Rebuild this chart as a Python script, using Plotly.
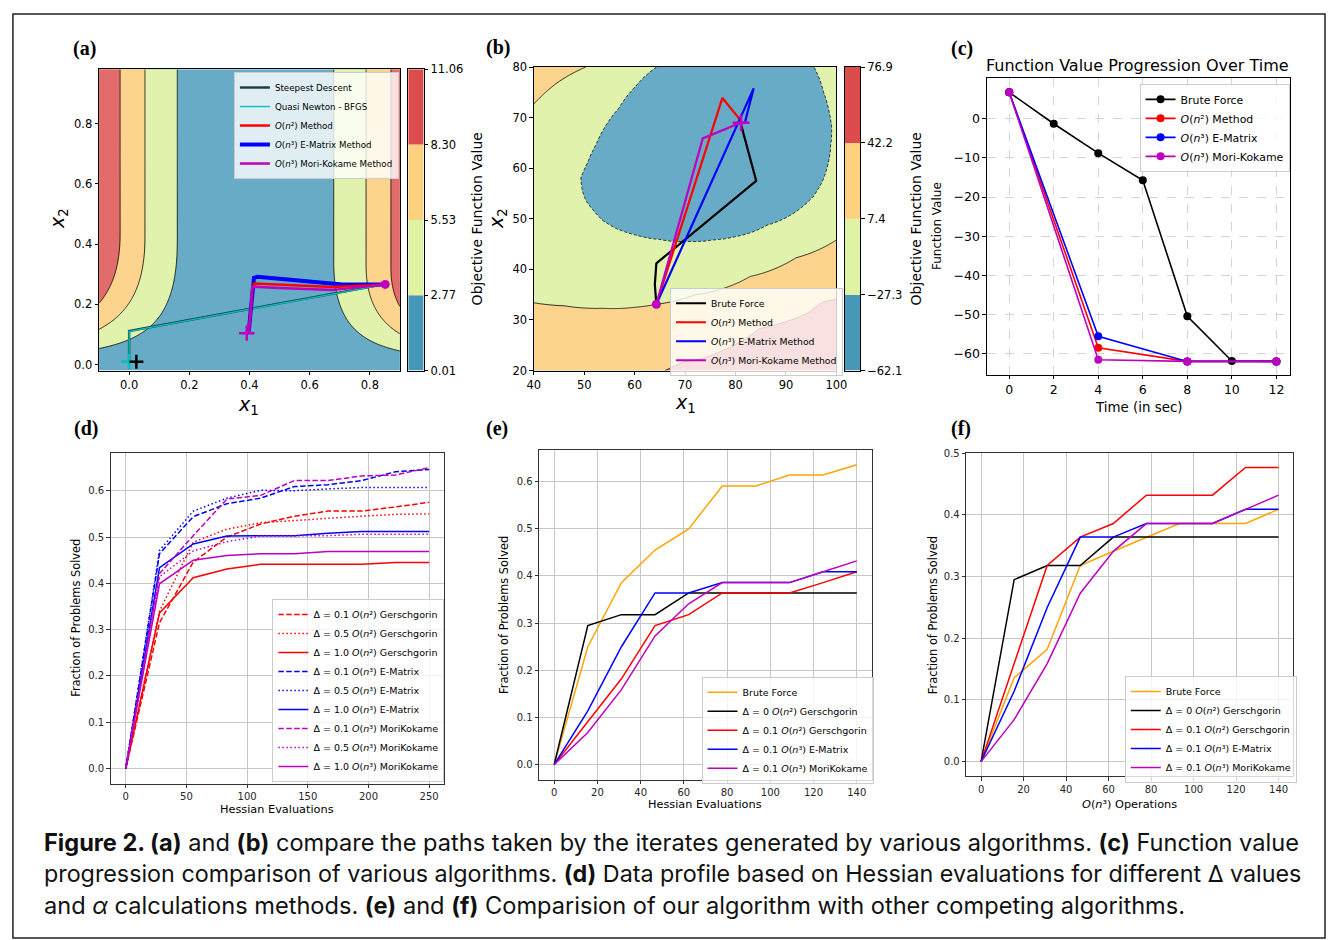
import numpy as np
import plotly.graph_objects as go

W, H = 1338, 940
FONT = "DejaVu Sans"
RED, BLUE, MAG, CYAN, ORANGE = "#ff0000", "#0000ff", "#bf00bf", "#00bfbf", "#ffa500"

PLOT_COLORS = ["#67abc6", "#e0f2ab", "#fdd48e", "#e26b6b"]
CBAR_COLORS = ["#4797b8", "#e0f3a3", "#fed17e", "#dc4c4c"]

# ---------------- (a) contour levels & paths ----------------
A_LEVELS = [0.01, 2.77, 5.53, 8.30, 11.06]
A_LEVEL_TEXT = ["0.01", "2.77", "5.53", "8.30", "11.06"]
A_CURV, A_CENTER = 41.0, 0.42
A_CAP_LEFT, A_CAP_RIGHT, A_POW = 0.45, 0.32, 2.3

sd_x = [0.0, 0.0, 0.851]
sd_y = [0.008, 0.111, 0.267]
bfgs_x = [0.0, 0.0, 0.851]
bfgs_y = [0.010, 0.110, 0.266]
a_n2_x = [0.391, 0.398, 0.404, 0.410, 0.415, 0.550, 0.677, 0.851]
a_n2_y = [0.104, 0.113, 0.178, 0.255, 0.269, 0.262, 0.257, 0.266]
a_em_x = [0.391, 0.398, 0.404, 0.410, 0.415, 0.426, 0.568, 0.709, 0.851]
a_em_y = [0.104, 0.113, 0.178, 0.255, 0.288, 0.291, 0.277, 0.266, 0.266]
a_mk_x = [0.391, 0.398, 0.404, 0.409, 0.500, 0.677, 0.851]
a_mk_y = [0.104, 0.113, 0.178, 0.258, 0.254, 0.2475, 0.266]

# ---------------- (b) contour anchors & paths ----------------
B_LEVELS = [-62.1, -27.35, 7.40, 42.15, 76.9]
B_LEVEL_TEXT = ["\u221262.1", "\u221227.3", "7.4", "42.2", "76.9"]
B_CX, B_CY = 78.0, 66.0
blue_edge_x = [64.3, 60.0, 56.8, 54.0, 52.3, 50.6, 49.3, 49.6, 50.3, 53.6, 56.5, 60.1, 65.0, 70.9, 75.5,
               79.7, 86.2, 92.7, 95.5, 97.3, 98.9, 99.1, 98.6, 97.5, 95.6, 90.0, 82.0, 72.0]
blue_edge_y = [80.0, 76.0, 71.8, 68.0, 64.6, 61.0, 58.1, 55.5, 53.6, 49.7, 48.0, 46.8, 45.9, 45.5, 45.8,
               46.4, 48.7, 51.9, 54.5, 57.5, 64.6, 68.0, 71.1, 75.0, 80.0, 87.0, 89.0, 86.0]
green_edge_x = [50.3, 44.5, 40.0, 35.0, 34.0, 35.0, 37.0, 40.0, 46.0, 53.6, 60.0, 64.3, 72.0, 82.9, 92.0,
                100.0, 105.0, 107.0, 106.0, 101.0, 90.0, 76.0, 62.0]
green_edge_y = [80.0, 76.8, 72.7, 64.0, 55.0, 46.0, 38.5, 33.4, 32.8, 32.3, 32.5, 33.1, 35.0, 38.6, 42.3,
                45.8, 54.0, 64.0, 75.0, 86.0, 95.0, 96.0, 90.0]

b_bf_x = [81.0, 84.1, 64.3, 64.0, 64.3]
b_bf_y = [69.0, 57.5, 41.2, 37.0, 33.1]
b_n2_x = [80.9, 77.4, 64.3]
b_n2_y = [69.6, 73.9, 33.1]
b_em_x = [81.8, 83.6, 64.3]
b_em_y = [68.8, 75.8, 33.1]
b_mk_x = [82.4, 81.0, 73.5, 64.3]
b_mk_y = [69.1, 69.0, 65.9, 33.1]

# ---------------- (c) ----------------
c_bf_t = [0, 2, 4, 6, 8, 10, 12]
c_bf_v = [6.7, -1.3, -8.8, -15.7, -50.4, -61.8, -61.9]
c_t = [0, 4, 8, 12]
c_n2_v = [6.7, -58.4, -61.9, -61.9]
c_em_v = [6.7, -55.5, -61.9, -61.9]
c_mk_v = [6.7, -61.5, -61.9, -61.9]

# ---------------- (d) ----------------
d_x = [0, 27.8, 55.6, 83.3, 111.1, 138.9, 166.7, 194.4, 222.2, 250]
d_g01 = [0, 0.315, 0.446, 0.500, 0.528, 0.545, 0.556, 0.556, 0.565, 0.575]
d_g05 = [0, 0.340, 0.489, 0.517, 0.531, 0.536, 0.540, 0.545, 0.549, 0.550]
d_g10 = [0, 0.336, 0.412, 0.431, 0.441, 0.441, 0.441, 0.441, 0.445, 0.445]
d_e01 = [0, 0.464, 0.544, 0.572, 0.584, 0.609, 0.613, 0.622, 0.641, 0.646]
d_e05 = [0, 0.471, 0.556, 0.584, 0.601, 0.600, 0.604, 0.607, 0.607, 0.607]
d_e10 = [0, 0.434, 0.485, 0.502, 0.503, 0.503, 0.508, 0.512, 0.512, 0.512]
d_m01 = [0, 0.421, 0.503, 0.582, 0.590, 0.622, 0.622, 0.632, 0.634, 0.650]
d_m05 = [0, 0.414, 0.470, 0.490, 0.502, 0.502, 0.503, 0.506, 0.506, 0.506]
d_m10 = [0, 0.399, 0.450, 0.460, 0.464, 0.464, 0.469, 0.469, 0.469, 0.469]

# ---------------- (e) & (f) ----------------
ef_x = [0, 15.56, 31.11, 46.67, 62.22, 77.78, 93.33, 108.89, 124.44, 140]
e_bf = [0, 0.250, 0.386, 0.455, 0.500, 0.591, 0.591, 0.614, 0.614, 0.636]
e_g0 = [0, 0.295, 0.318, 0.318, 0.364, 0.364, 0.364, 0.364, 0.364, 0.364]
e_g01 = [0, 0.091, 0.182, 0.295, 0.318, 0.364, 0.364, 0.364, 0.386, 0.409]
e_em = [0, 0.114, 0.250, 0.364, 0.364, 0.386, 0.386, 0.386, 0.409, 0.409]
e_mk = [0, 0.068, 0.159, 0.273, 0.341, 0.386, 0.386, 0.386, 0.409, 0.432]
f_bf = [0, 0.136, 0.182, 0.318, 0.341, 0.364, 0.386, 0.386, 0.386, 0.409]
f_g0 = [0, 0.295, 0.318, 0.318, 0.364, 0.364, 0.364, 0.364, 0.364, 0.364]
f_g01 = [0, 0.159, 0.318, 0.364, 0.386, 0.432, 0.432, 0.432, 0.477, 0.477]
f_em = [0, 0.114, 0.250, 0.364, 0.364, 0.386, 0.386, 0.386, 0.409, 0.409]
f_mk = [0, 0.068, 0.159, 0.273, 0.341, 0.386, 0.386, 0.386, 0.409, 0.432]


def fx(X):
    return X / W


def fy(Y):
    return 1 - Y / H


def px_x(a, b):
    return [fx(a), fx(b)]


def px_y(top, bottom):
    return [fy(bottom), fy(top)]


def step_scale(cols):
    return [[0, cols[0]], [1 / 6, cols[0]], [1 / 6, cols[1]], [0.5, cols[1]],
            [0.5, cols[2]], [5 / 6, cols[2]], [5 / 6, cols[3]], [1, cols[3]]]


def radial_profile(px, py, cx, cy):
    px, py = np.asarray(px, float), np.asarray(py, float)
    th = np.arctan2(py - cy, px - cx)
    r = np.hypot(px - cx, py - cy)
    order = np.argsort(th)
    th, r = th[order], r[order]

    def f(theta):
        return np.interp(theta, th, r, period=2 * np.pi)
    return f


fig = go.Figure()

# ---------- (a) contour ----------
ax_g = np.linspace(-0.1, 0.9, 301)
ay_g = np.linspace(-0.02, 0.98, 301)
AX, AY = np.meshgrid(ax_g, ay_g)
cap = A_CAP_LEFT + (A_CAP_RIGHT - A_CAP_LEFT) * (AX + 0.1)
hy = 1 - np.clip(1 - AY / cap, 0, 1) ** A_POW
Za = A_CURV * (AX - A_CENTER) ** 2 * hy
fig.add_trace(go.Contour(
    x=ax_g, y=ay_g, z=Za, xaxis="x", yaxis="y", zmin=A_LEVELS[0], zmax=A_LEVELS[-1],
    contours=dict(start=A_LEVELS[1], end=A_LEVELS[3], size=(A_LEVELS[3] - A_LEVELS[1]) / 2,
                  coloring="fill", showlines=True),
    line=dict(color="black", width=0.8), colorscale=step_scale(PLOT_COLORS),
    showscale=False, hoverinfo="skip", showlegend=False))
fig.add_trace(go.Bar(x=[0, 0, 0, 0], y=list(np.diff(A_LEVELS)), base=A_LEVELS[:-1], width=1,
                     marker=dict(color=CBAR_COLORS, line_width=0), xaxis="x2", yaxis="y2",
                     showlegend=False, hoverinfo="skip"))

LA = "legend"
fig.add_trace(go.Scatter(x=sd_x, y=sd_y, mode="lines", line=dict(color="#1a3a3a", width=2.4),
                         name="Steepest Descent", legend=LA, legendrank=1, xaxis="x", yaxis="y"))
fig.add_trace(go.Scatter(x=bfgs_x, y=bfgs_y, mode="lines", line=dict(color=CYAN, width=1.4),
                         name="Quasi Newton - BFGS", legend=LA, legendrank=2, xaxis="x", yaxis="y"))
fig.add_trace(go.Scatter(x=a_em_x, y=a_em_y, mode="lines", line=dict(color=BLUE, width=4),
                         name="<i>O</i>(<i>n</i>\u00b3) E-Matrix Method", legend=LA, legendrank=4,
                         xaxis="x", yaxis="y"))
fig.add_trace(go.Scatter(x=a_n2_x, y=a_n2_y, mode="lines", line=dict(color=RED, width=2.5),
                         name="<i>O</i>(<i>n</i>\u00b2) Method", legend=LA, legendrank=3,
                         xaxis="x", yaxis="y"))
fig.add_trace(go.Scatter(x=a_mk_x, y=a_mk_y, mode="lines", line=dict(color=MAG, width=2.5),
                         name="<i>O</i>(<i>n</i>\u00b3) Mori-Kokame Method", legend=LA, legendrank=5,
                         xaxis="x", yaxis="y"))
fig.add_trace(go.Scatter(x=[bfgs_x[0]], y=[bfgs_y[0]], mode="markers", showlegend=False,
                         marker=dict(symbol="cross-thin", size=11, line=dict(color=CYAN, width=2.5)),
                         xaxis="x", yaxis="y"))
fig.add_trace(go.Scatter(x=[0.024], y=[0.009], mode="markers", showlegend=False,
                         marker=dict(symbol="cross-thin", size=10, line=dict(color="black", width=2.5)),
                         xaxis="x", yaxis="y"))
fig.add_trace(go.Scatter(x=[a_mk_x[0]], y=[a_mk_y[0]], mode="markers", showlegend=False,
                         marker=dict(symbol="cross-thin", size=11, line=dict(color=MAG, width=2.5)),
                         xaxis="x", yaxis="y"))
fig.add_trace(go.Scatter(x=[a_mk_x[-1]], y=[a_mk_y[-1]], mode="markers", showlegend=False,
                         marker=dict(symbol="circle", size=9, color=MAG), xaxis="x", yaxis="y"))

# ---------- (b) contour ----------
prof1 = radial_profile(blue_edge_x, blue_edge_y, B_CX, B_CY)
prof2 = radial_profile(green_edge_x, green_edge_y, B_CX, B_CY)
bx_g = np.linspace(40, 100, 301)
by_g = np.linspace(20, 80, 301)
BX, BY = np.meshgrid(bx_g, by_g)
th = np.arctan2(BY - B_CY, BX - B_CX)
rr = np.hypot(BX - B_CX, BY - B_CY)
r1 = prof1(th)
r2 = prof2(th)
step_b = B_LEVELS[2] - B_LEVELS[1]
inner = B_LEVELS[0] + step_b * (rr / r1) ** 2
outer = B_LEVELS[1] + step_b * np.clip((rr - r1) / (r2 - r1), 0, None) ** 0.85
Zb = np.where(rr <= r1, inner, outer)
fig.add_trace(go.Contour(
    x=bx_g, y=by_g, z=Zb, xaxis="x3", yaxis="y3", zmin=B_LEVELS[0], zmax=B_LEVELS[-1],
    contours=dict(start=B_LEVELS[1], end=B_LEVELS[3], size=step_b, coloring="fill", showlines=False),
    line=dict(width=0), colorscale=step_scale(PLOT_COLORS), showscale=False,
    hoverinfo="skip", showlegend=False))
fig.add_trace(go.Contour(
    x=bx_g, y=by_g, z=Zb, xaxis="x3", yaxis="y3",
    contours=dict(start=B_LEVELS[1], end=B_LEVELS[1], size=step_b, coloring="none"),
    line=dict(color="black", width=0.8, dash="3px,2px"), showscale=False,
    hoverinfo="skip", showlegend=False))
fig.add_trace(go.Contour(
    x=bx_g, y=by_g, z=Zb, xaxis="x3", yaxis="y3",
    contours=dict(start=B_LEVELS[2], end=B_LEVELS[3], size=step_b, coloring="none"),
    line=dict(color="black", width=0.8), showscale=False,
    hoverinfo="skip", showlegend=False))
fig.add_trace(go.Bar(x=[0, 0, 0, 0], y=list(np.diff(B_LEVELS)), base=B_LEVELS[:-1], width=1,
                     marker=dict(color=CBAR_COLORS, line_width=0), xaxis="x4", yaxis="y4",
                     showlegend=False, hoverinfo="skip"))
LB = "legend2"
for xs, ys, col, nm in [(b_bf_x, b_bf_y, "black", "Brute Force"),
                        (b_n2_x, b_n2_y, RED, "<i>O</i>(<i>n</i>\u00b2) Method"),
                        (b_em_x, b_em_y, BLUE, "<i>O</i>(<i>n</i>\u00b3) E-Matrix Method"),
                        (b_mk_x, b_mk_y, MAG, "<i>O</i>(<i>n</i>\u00b3) Mori-Kokame Method")]:
    fig.add_trace(go.Scatter(x=xs, y=ys, mode="lines", line=dict(color=col, width=2.2), name=nm,
                             legend=LB, xaxis="x3", yaxis="y3"))
fig.add_trace(go.Scatter(x=[81.1], y=[69.0], mode="markers", showlegend=False,
                         marker=dict(symbol="cross-thin", size=12, line=dict(color=MAG, width=2.5)),
                         xaxis="x3", yaxis="y3"))
fig.add_trace(go.Scatter(x=[b_mk_x[-1]], y=[b_mk_y[-1]], mode="markers", showlegend=False,
                         marker=dict(symbol="circle", size=9, color=MAG), xaxis="x3", yaxis="y3"))

# ---------- (c) ----------
LC = "legend3"
for xs, ys, col, nm in [(c_bf_t, c_bf_v, "black", "Brute Force"),
                        (c_t, c_n2_v, RED, "<i>O</i>(<i>n</i>\u00b2) Method"),
                        (c_t, c_em_v, BLUE, "<i>O</i>(<i>n</i>\u00b3) E-Matrix"),
                        (c_t, c_mk_v, MAG, "<i>O</i>(<i>n</i>\u00b3) Mori-Kokame")]:
    fig.add_trace(go.Scatter(x=xs, y=ys, mode="lines+markers", line=dict(color=col, width=1.6),
                             marker=dict(size=8, color=col), name=nm, legend=LC,
                             xaxis="x5", yaxis="y5"))

# ---------- (d) ----------
DASH, DOT = "5.5px,2.4px", "1.5px,2.5px"
LD = "legend4"
g2, g3 = "<i>O</i>(<i>n</i>\u00b2)", "<i>O</i>(<i>n</i>\u00b3)"
for ys, col, dash, nm in [
        (d_g01, RED, DASH, "\u0394 = 0.1 " + g2 + " Gerschgorin"),
        (d_g05, RED, DOT, "\u0394 = 0.5 " + g2 + " Gerschgorin"),
        (d_g10, RED, "solid", "\u0394 = 1.0 " + g2 + " Gerschgorin"),
        (d_e01, BLUE, DASH, "\u0394 = 0.1 " + g3 + " E-Matrix"),
        (d_e05, BLUE, DOT, "\u0394 = 0.5 " + g3 + " E-Matrix"),
        (d_e10, BLUE, "solid", "\u0394 = 1.0 " + g3 + " E-Matrix"),
        (d_m01, MAG, DASH, "\u0394 = 0.1 " + g3 + " MoriKokame"),
        (d_m05, MAG, DOT, "\u0394 = 0.5 " + g3 + " MoriKokame"),
        (d_m10, MAG, "solid", "\u0394 = 1.0 " + g3 + " MoriKokame")]:
    fig.add_trace(go.Scatter(x=d_x, y=ys, mode="lines", line=dict(color=col, width=1.5, dash=dash),
                             name=nm, legend=LD, xaxis="x6", yaxis="y6"))

# ---------- (e), (f) ----------
for ax_name, ay_name, leg, series in [
        ("x7", "y7", "legend5", [e_bf, e_g0, e_g01, e_em, e_mk]),
        ("x8", "y8", "legend6", [f_bf, f_g0, f_g01, f_em, f_mk])]:
    names = ["Brute Force", "\u0394 = 0 " + g2 + " Gerschgorin", "\u0394 = 0.1 " + g2 + " Gerschgorin",
             "\u0394 = 0.1 " + g3 + " E-Matrix", "\u0394 = 0.1 " + g3 + " MoriKokame"]
    cols = [ORANGE, "black", RED, BLUE, MAG]
    for ys, col, nm in zip(series, cols, names):
        fig.add_trace(go.Scatter(x=ef_x, y=ys, mode="lines", line=dict(color=col, width=1.5),
                                 name=nm, legend=leg, xaxis=ax_name, yaxis=ay_name))


# ---------- axes ----------
def axis(domain, rng, anchor, tickvals=None, ticktext=None, size=11.5, color="black",
         grid=None, side=None, show_ticks=True, linecolor="black"):
    d = dict(domain=domain, range=rng, anchor=anchor, showline=True, mirror=True,
             linecolor=linecolor, linewidth=1, zeroline=False, showgrid=False,
             ticks="outside" if show_ticks else "", ticklen=3.5, tickwidth=0.8, tickcolor=linecolor,
             tickfont=dict(family=FONT, size=size, color=color), fixedrange=True)
    if tickvals is not None:
        d["tickmode"] = "array"
        d["tickvals"] = tickvals
        d["ticktext"] = ticktext if ticktext is not None else [str(v) for v in tickvals]
    if not show_ticks:
        d["showticklabels"] = False
    if grid is not None:
        d.update(showgrid=True, **grid)
    if side:
        d["side"] = side
    return d


def fmt(vals, nd=1):
    return [("\u2212" if v < 0 else "") + f"{abs(v):.{nd}f}" for v in vals]


grid_c = dict(gridcolor="#d4d4d4", gridwidth=0.8, griddash="dash")
grid_d = dict(gridcolor="#c6c6c6", gridwidth=1.2)
dc = "#262626"
ticks_a = [0.0, 0.2, 0.4, 0.6, 0.8]
fr = [0, 0.1, 0.2, 0.3, 0.4, 0.5, 0.6]
layout_axes = dict(
    xaxis=axis(px_x(93.3, 398.3), [-0.1, 0.9], "y", ticks_a, fmt(ticks_a)),
    yaxis=axis(px_y(63.3, 369), [-0.02, 0.98], "x", ticks_a, fmt(ticks_a)),
    xaxis2=axis(px_x(406.7, 422.3), [-0.5, 0.5], "y2", show_ticks=False),
    yaxis2=axis(px_y(63.3, 369), [A_LEVELS[0], A_LEVELS[-1]], "x2", A_LEVELS, A_LEVEL_TEXT, side="right"),
    xaxis3=axis(px_x(534, 840.7), [40, 100], "y3", list(range(40, 101, 10))),
    yaxis3=axis(px_y(61, 369), [20, 80], "x3", list(range(20, 81, 10))),
    xaxis4=axis(px_x(849.3, 865), [-0.5, 0.5], "y4", show_ticks=False),
    yaxis4=axis(px_y(61, 369), [B_LEVELS[0], B_LEVELS[-1]], "x4",
                [-62.1, -27.3, 7.4, 42.2, 76.9], B_LEVEL_TEXT, side="right"),
    xaxis5=axis(px_x(993.3, 1300.7), [-1.0, 12.62], "y5", list(range(0, 13, 2)), size=12.5, grid=grid_c),
    yaxis5=axis(px_y(72.3, 373.3), [-65.3, 10.3], "x5", [0, -10, -20, -30, -40, -50, -60],
                fmt([0, -10, -20, -30, -40, -50, -60], 0), size=12.5, grid=grid_c),
    xaxis6=axis(px_x(105, 443.3), [-12.5, 262.5], "y6", [0, 50, 100, 150, 200, 250], size=10,
                color=dc, grid=grid_d, linecolor="#333333"),
    yaxis6=axis(px_y(452.3, 788.3), [-0.0325, 0.6825], "x6", fr, fmt(fr), size=10, color=dc,
                grid=grid_d, linecolor="#333333"),
    xaxis7=axis(px_x(539.3, 876.7), [-7, 147], "y7", list(range(0, 141, 20)), size=10,
                color=dc, grid=grid_d, linecolor="#333333"),
    yaxis7=axis(px_y(449.3, 784.3), [-0.0318, 0.668], "x7", fr, fmt(fr), size=10, color=dc,
                grid=grid_d, linecolor="#333333"),
    xaxis8=axis(px_x(972.3, 1304), [-7, 147], "y8", list(range(0, 141, 20)), size=10,
                color=dc, grid=grid_d, linecolor="#333333"),
    yaxis8=axis(px_y(452.3, 781), [-0.0239, 0.5011], "x8", fr[:6], fmt(fr[:6]), size=10, color=dc,
                grid=grid_d, linecolor="#333333"),
)


def legend_cfg(left, top, size):
    return dict(x=fx(left), y=fy(top), xanchor="left", yanchor="top",
                bgcolor="rgba(255,255,255,0.8)", bordercolor="#cccccc", borderwidth=1,
                font=dict(family=FONT, size=size, color="black"), itemwidth=30, tracegroupgap=0)


def ann(text, x, y, size, angle=0, family=FONT, xanchor="center", color="black"):
    return dict(text=text, x=fx(x), y=fy(y), xref="paper", yref="paper", showarrow=False,
                font=dict(family=family, size=size, color=color), textangle=angle,
                xanchor=xanchor, yanchor="middle")


x1 = "<i>x</i><sub>1</sub>"
x2 = "<i>x</i><sub>2</sub>"
annotations = [
    ann("<b>(a)</b>", 79, 42, 20, family="Liberation Serif"),
    ann("<b>(b)</b>", 498, 41, 20, family="Liberation Serif"),
    ann("<b>(c)</b>", 968, 42, 20, family="Liberation Serif"),
    ann("<b>(d)</b>", 80, 428, 20, family="Liberation Serif"),
    ann("<b>(e)</b>", 497, 428, 20, family="Liberation Serif"),
    ann("<b>(f)</b>", 967, 428, 20, family="Liberation Serif"),
    ann(x2, 53, 215, 19, angle=-90),
    ann(x1, 245, 405, 19),
    ann("Objective Function Value", 476, 215, 14, angle=-90),
    ann(x2, 497, 215, 19, angle=-90),
    ann(x1, 688, 403, 19),
    ann("Objective Function Value", 921, 215, 14, angle=-90),
    ann("Function Value", 942, 222, 12, angle=-90),
    ann("Function Value Progression Over Time", 1146, 59, 16),
    ann("Time (in sec)", 1147, 407, 13.4),
    ann("Fraction of Problems Solved", 70, 620, 11.4, angle=-90),
    ann("Hessian Evaluations", 274, 815, 11.3),
    ann("Fraction of Problems Solved", 504, 617, 11.4, angle=-90),
    ann("Hessian Evaluations", 708, 810, 11.3),
    ann("Fraction of Problems Solved", 938, 617, 11.4, angle=-90),
    ann(g3 + " Operations", 1138, 810, 11.3),
]
CAP = "Inter"
captions = [
    ("<b>Figure 2. (a)</b> and <b>(b)</b> compare the paths taken by the iterates generated by various "
     "algorithms. <b>(c)</b> Function value", 23.6),
    ("progression comparison of various algorithms. <b>(d)</b> Data profile based on Hessian evaluations "
     "for different \u0394 values", 23.3),
    ("and <i>\u03b1</i> calculations methods. <b>(e)</b> and <b>(f)</b> Comparision of our algorithm with "
     "other competing algorithms.", 23.6),
]
for i, (txt, sz) in enumerate(captions):
    annotations.append(ann(txt, 35, 848 + 32 * i, sz, family=CAP, xanchor="left", color="#111111"))

fig.update_layout(
    width=W, height=H, margin=dict(l=0, r=0, t=0, b=0), paper_bgcolor="white", plot_bgcolor="white",
    barmode="overlay", showlegend=True, hovermode=False,
    legend=legend_cfg(230, 66, 8.7),
    legend2=legend_cfg(672, 285, 9.3),
    legend3=legend_cfg(1148, 78, 10.9),
    legend4=legend_cfg(269, 601, 9.5),
    legend5=legend_cfg(704, 680, 9.5),
    legend6=legend_cfg(1133, 679, 9.5),
    annotations=annotations,
    shapes=[dict(type="rect", xref="paper", yref="paper", x0=6 / W, x1=1336 / W, y0=-5 / H, y1=1 - 7 / H,
                 line=dict(color="#222222", width=1.5), layer="above")],
    **layout_axes,
)
fig.write_html("out.html", config={"displayModeBar": False},
               post_script="document.body.style.margin='0px';document.body.style.overflow='hidden';")
